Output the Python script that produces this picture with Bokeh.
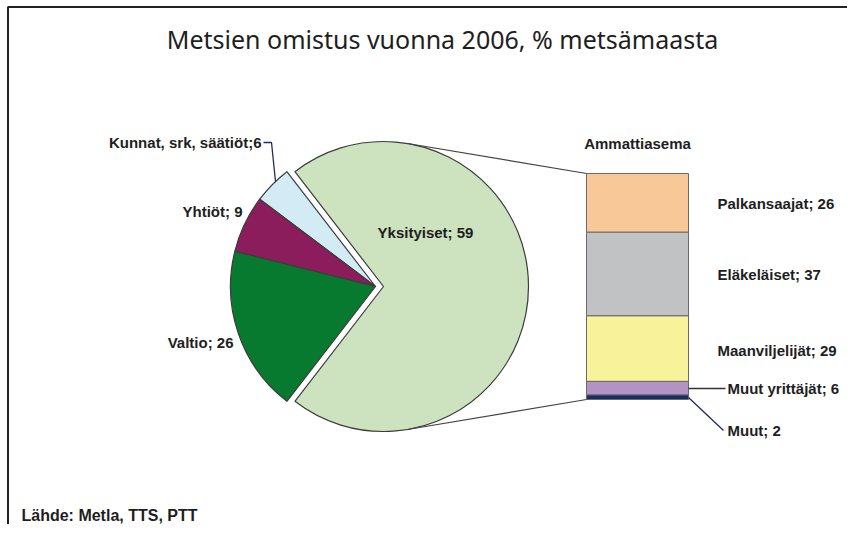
import math
from bokeh.plotting import figure
from bokeh.models import Range1d
from bokeh.core.properties import value
from bokeh.embed import file_html
from bokeh.resources import INLINE

# ---------------- data ----------------
title_text = "Metsien omistus vuonna 2006, % metsämaasta"
source_text = "Lähde: Metla, TTS, PTT"
bar_title = "Ammattiasema"

pie_categories = ["Yksityiset", "Kunnat, srk, säätiöt", "Yhtiöt", "Valtio"]
pie_values = [59, 6, 9, 26]            # labelled shares of forest land, %

bar_categories = ["Palkansaajat", "Eläkeläiset", "Maanviljelijät", "Muut yrittäjät", "Muut"]
bar_values = [26, 37, 29, 6, 2]        # private owners by occupation, %

# ---------------- style ----------------
pie_colors = ["#cde2bf", "#d3ebf5", "#8c1d5c", "#087a30"]
bar_colors = ["#f9c898", "#c0c2c3", "#f8f29a", "#b393c5", "#1b2a69"]
edge = "#3c3c3c"
txt = "#1e1e1e"
navy = "#1f2a5e"
FONT = value("Liberation Sans")

W, H = 847, 524
TOP = 540                                  # main y = TOP - image row

p = figure(width=W, height=H, output_backend="svg", toolbar_location=None,
           x_range=Range1d(0, W), y_range=Range1d(TOP - H, TOP),
           min_border=0, background_fill_color="white", border_fill_color="white")
p.axis.visible = False
p.grid.visible = False
p.outline_line_color = None

# frame lines (left & top only visible in the reference)
p.line(x=[7.5, 7.5, W], y=[TOP - H, TOP - 6.5, TOP - 6.5], line_color="#222222", line_width=2)

# ---------------- pie (bar-of-pie: "other" slice = sum of bar series) ----------------
slice_sizes = [sum(bar_values)] + pie_values[1:]
total = sum(slice_sizes)
start0 = -math.pi * slice_sizes[0] / total
starts, ends = [], []
acc = start0
for s in slice_sizes:
    starts.append(acc)
    acc += 2 * math.pi * s / total
    ends.append(acc)

PIE_CX, PIE_CY, R = 375, TOP - 286, 145
explode = [8, 0, 0, 0]
cxs = [PIE_CX + e for e in explode]
cys = [PIE_CY] * len(slice_sizes)
p.wedge(x=cxs, y=cys, radius=R, radius_units="screen", start_angle=starts, end_angle=ends,
        direction="anticlock", fill_color=pie_colors, line_color=edge, line_width=1.2)

# ---------------- stacked bar ----------------
BAR_X, BAR_W = 637, 102
BAR_TOP_IMG, BAR_BOT_IMG = 173, 399
bar_total = sum(bar_values)
ppu = (BAR_BOT_IMG - BAR_TOP_IMG) / bar_total
frame_bottom = TOP - H
bar_base = TOP - BAR_BOT_IMG
rs = -(bar_base - frame_bottom) / ppu
p.extra_y_ranges = {"bar": Range1d(rs, rs + H / ppu)}

tops, bottoms = [], []
acc = bar_total
for v in bar_values:
    tops.append(acc)
    acc -= v
    bottoms.append(acc)
p.vbar(x=BAR_X, width=BAR_W, top=tops, bottom=bottoms, y_range_name="bar",
       fill_color=bar_colors, line_color="#6a6a6a", line_width=1)

# ---------------- connector lines (tangents from bar corners to the exploded slice) ----
ycx, ycy = cxs[0], cys[0]
bar_left = BAR_X - BAR_W / 2
for corner_y, sign in [(TOP - BAR_TOP_IMG, 1), (TOP - BAR_BOT_IMG, -1)]:
    vx, vy = bar_left - ycx, corner_y - ycy
    d = math.hypot(vx, vy)
    a = math.atan2(vy, vx) + sign * math.acos(R / d)
    p.line(x=[ycx + R * math.cos(a), bar_left], y=[ycy + R * math.sin(a), corner_y],
           line_color="#444444", line_width=1.2)

# ---------------- leader lines ----------------
p.line(x=[263, 271, 275], y=[TOP - 142, TOP - 142, TOP - 181], line_color=navy, line_width=1.3)
p.line(x=[BAR_X + BAR_W / 2, 725], y=[TOP - 388, TOP - 388], line_color="#333333", line_width=1.3)
p.line(x=[BAR_X + BAR_W / 2, 723], y=[TOP - 397, TOP - 430], line_color=navy, line_width=1.3)

# ---------------- texts ----------------
p.text(x=[442], y=[TOP - 38], text=[title_text], text_font=value("Noto Sans"),
       text_font_size="25px", text_color=txt, text_align="center", text_baseline="middle")

pie_labels = [f"{c}; {v}" for c, v in zip(pie_categories, pie_values)]
pie_labels[1] = f"{pie_categories[1]};{pie_values[1]}"
pie_lx = [425, 261, 242, 233]
pie_ly = [232, 142, 211, 342]
pie_al = ["center", "right", "right", "right"]
p.text(x=pie_lx, y=[TOP - y for y in pie_ly], text=pie_labels, text_font=FONT,
       text_font_size="15px", text_font_style="bold", text_color=txt,
       text_align=pie_al, text_baseline="middle")

bar_labels = [f"{c}; {v}" for c, v in zip(bar_categories, bar_values)]
bar_lx = [717, 717, 717, 727, 727]
bar_ly = [203, 274, 350, 388, 430]
p.text(x=bar_lx, y=[TOP - y for y in bar_ly], text=bar_labels, text_font=FONT,
       text_font_size="15px", text_font_style="bold", text_color=txt,
       text_align="left", text_baseline="middle")

p.text(x=[BAR_X], y=[TOP - 143], text=[bar_title], text_font=FONT, text_font_size="15px",
       text_font_style="bold", text_color=txt, text_align="center", text_baseline="middle")

p.text(x=[21], y=[TOP - 515], text=[source_text], text_font=FONT, text_font_size="16px",
       text_font_style="bold", text_color=txt, text_align="left", text_baseline="middle")

open("out.html", "w").write(file_html(p, INLINE))
